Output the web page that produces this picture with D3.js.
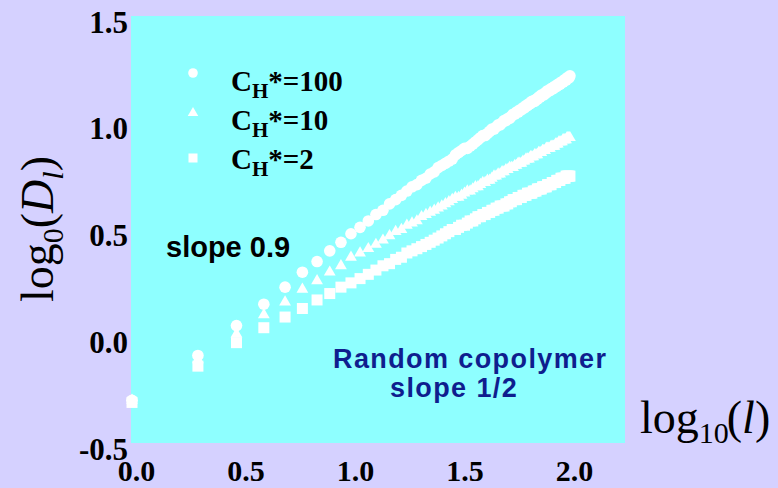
<!DOCTYPE html>
<html>
<head>
	<meta charset="utf-8">
	<title>log D vs log l</title>
	<script src="https://d3js.org/d3.v7.min.js"></script>
	<style>
	body {
		margin: 0;
		background: #d5d1ff;
	}
	.tick text {
		font-family: "Liberation Serif", "Times New Roman", serif;
		font-weight: bold;
		font-size: 31px;
		fill: #000000;
	}
	.x-axis .tick text {
		font-size: 30px;
	}
	.serif {
		font-family: "Liberation Serif", "Times New Roman", serif;
	}
	.sans {
		font-family: "Liberation Sans", Arial, sans-serif;
		font-weight: bold;
	}
	</style>
</head>
<body>
<div class="chartContainer"></div>
<script>
	// chain lengths l (x axis is log10 of these)
	var lengths = [1,2,3,4,5,6,7,8,9,10,11,12,13,14,15,16,17,18,19,20,
		21,22,23,24,25,26,27,28,29,30,31,32,33,34,35,36,37,38,39,40,
		41,42,43,44,45,46,47,48,49,50,51,52,53,54,55,56,57,58,59,60,
		61,62,63,64,65,66,67,68,69,70,71,72,73,74,75,76,77,78,79,80,
		81,82,83,84,85,86,87,88,89,90,91,92,93,94,95,96,97,98,99,100];

	// log10(D_l), one value per length
	var ch100 = [-0.30,-0.09,0.05,0.15,0.23,0.30,0.35,0.40,0.44,0.48,
		0.51,0.54,0.57,0.59,0.62,0.64,0.66,0.68,0.70,0.71,
		0.73,0.74,0.76,0.77,0.79,0.80,0.81,0.82,0.83,0.85,
		0.86,0.87,0.88,0.88,0.89,0.90,0.91,0.92,0.93,0.94,
		0.94,0.95,0.96,0.97,0.97,0.98,0.99,0.99,1.00,1.01,
		1.01,1.02,1.02,1.03,1.04,1.04,1.05,1.05,1.06,1.06,
		1.07,1.07,1.08,1.08,1.09,1.09,1.10,1.10,1.10,1.11,
		1.11,1.12,1.12,1.13,1.13,1.13,1.14,1.14,1.15,1.15,
		1.15,1.16,1.16,1.16,1.17,1.17,1.17,1.18,1.18,1.18,
		1.19,1.19,1.19,1.20,1.20,1.20,1.21,1.21,1.21,1.22];

	var ch10 = [-0.30,-0.11,0.01,0.10,0.16,0.22,0.26,0.30,0.33,0.37,
		0.39,0.41,0.43,0.45,0.47,0.49,0.50,0.52,0.53,0.54,
		0.56,0.57,0.58,0.59,0.60,0.61,0.62,0.63,0.64,0.65,
		0.65,0.66,0.67,0.68,0.68,0.69,0.70,0.70,0.71,0.72,
		0.72,0.73,0.73,0.74,0.75,0.75,0.76,0.76,0.77,0.77,
		0.78,0.78,0.79,0.79,0.79,0.80,0.80,0.81,0.81,0.81,
		0.82,0.82,0.83,0.83,0.83,0.84,0.84,0.84,0.85,0.85,
		0.85,0.86,0.86,0.86,0.87,0.87,0.87,0.88,0.88,0.88,
		0.88,0.89,0.89,0.89,0.89,0.90,0.90,0.90,0.91,0.91,
		0.91,0.91,0.92,0.92,0.92,0.92,0.93,0.93,0.93,0.93];

	var ch2 = [-0.31,-0.14,-0.03,0.04,0.09,0.13,0.17,0.20,0.23,0.25,
		0.27,0.29,0.31,0.33,0.34,0.36,0.37,0.39,0.40,0.41,
		0.42,0.43,0.44,0.45,0.46,0.47,0.48,0.49,0.50,0.50,
		0.51,0.52,0.52,0.53,0.54,0.54,0.55,0.56,0.56,0.57,
		0.57,0.58,0.58,0.59,0.59,0.60,0.60,0.61,0.61,0.61,
		0.62,0.62,0.63,0.63,0.64,0.64,0.64,0.65,0.65,0.65,
		0.66,0.66,0.66,0.67,0.67,0.67,0.67,0.68,0.68,0.68,
		0.69,0.69,0.69,0.69,0.70,0.70,0.70,0.70,0.71,0.71,
		0.71,0.71,0.72,0.72,0.72,0.72,0.73,0.73,0.73,0.73,
		0.74,0.74,0.74,0.74,0.74,0.75,0.75,0.75,0.75,0.75];

	var seriesNames = ["100", "10", "2"];
	var xTicks = [0, 0.5, 1.0, 1.5, 2.0];
	var xTickLabels = ["0.0", "0.5", "1.0", "1.5", "2.0"];
	var yTicks = [-0.5, 0.0, 0.5, 1.0, 1.5];
	var yTickLabels = ["-0.5", "0.0", "0.5", "1.0", "1.5"];

	var width = 778, height = 488;
	var plot = {left: 131, right: 625, top: 16, bottom: 443};

	var svg = d3.select(".chartContainer").append("svg")
		.attr("width", width)
		.attr("height", height);

	svg.append("rect")
		.attr("width", width).attr("height", height)
		.attr("fill", "#d5d1ff");

	svg.append("rect")
		.attr("x", plot.left).attr("y", plot.top)
		.attr("width", plot.right - plot.left)
		.attr("height", plot.bottom - plot.top)
		.attr("fill", "#8effff");

	var x = d3.scaleLinear().domain([0, 2.256]).range([132, 626]);
	var y = d3.scaleLinear().domain([-0.5, 1.5]).range([plot.bottom, plot.top]);

	// axes: labels only, no lines
	var xAxis = d3.axisBottom(x).tickValues(xTicks).tickSize(0)
		.tickFormat(function(d, i) { return xTickLabels[i]; });
	var yAxis = d3.axisLeft(y).tickValues(yTicks).tickSize(0)
		.tickFormat(function(d, i) { return yTickLabels[i]; });

	var gx = svg.append("g")
		.attr("class", "x-axis")
		.attr("transform", "translate(0," + plot.bottom + ")")
		.call(xAxis);
	gx.select(".domain").remove();
	gx.selectAll("text").attr("y", 38).attr("dy", 0).attr("dx", 4);

	var gy = svg.append("g")
		.attr("transform", "translate(128,0)")
		.call(yAxis);
	gy.select(".domain").remove();
	gy.selectAll("text").attr("x", 0).attr("dy", 16);

	// markers
	var pts = function(vals) {
		return lengths.map(function(l, i) { return {lx: Math.log10(l), v: vals[i]}; });
	};

	svg.append("g").selectAll("rect")
		.data(pts(ch2)).enter().append("rect")
		.attr("x", function(d) { return x(d.lx) - 5.5; })
		.attr("y", function(d) { return y(d.v) - 5.5; })
		.attr("width", 11).attr("height", 11)
		.attr("fill", "#ffffff");

	var tri = d3.symbol().type(d3.symbolTriangle).size(60);
	svg.append("g").selectAll("path")
		.data(pts(ch10)).enter().append("path")
		.attr("d", tri)
		.attr("transform", function(d) { return "translate(" + x(d.lx) + "," + y(d.v) + ")"; })
		.attr("fill", "#ffffff");

	svg.append("g").selectAll("circle")
		.data(pts(ch100)).enter().append("circle")
		.attr("cx", function(d) { return x(d.lx); })
		.attr("cy", function(d) { return y(d.v); })
		.attr("r", 5.8)
		.attr("fill", "#ffffff");

	// legend
	var legendY = [73, 113, 158];
	var textY = [91, 130, 169];
	var lg = svg.append("g");
	lg.append("circle").attr("cx", 193).attr("cy", legendY[0]).attr("r", 4.8).attr("fill", "#fff");
	lg.append("path").attr("d", d3.symbol().type(d3.symbolTriangle).size(48))
		.attr("transform", "translate(193," + legendY[1] + ")").attr("fill", "#fff");
	lg.append("rect").attr("x", 188.5).attr("y", legendY[2] - 4.5)
		.attr("width", 9).attr("height", 9).attr("fill", "#fff");

	seriesNames.forEach(function(n, i) {
		var t = lg.append("text")
			.attr("class", "serif")
			.attr("x", 231).attr("y", textY[i])
			.attr("font-weight", "bold")
			.attr("font-size", 29);
		t.append("tspan").text("C");
		t.append("tspan").attr("font-size", 21).attr("dy", 7).text("H");
		t.append("tspan").attr("dy", -7).text("*=" + n);
	});

	// annotations
	svg.append("text").attr("class", "sans")
		.attr("x", 166).attr("y", 257)
		.attr("font-size", 29).attr("fill", "#000")
		.text("slope 0.9");

	svg.append("text").attr("class", "sans")
		.attr("x", 333).attr("y", 368)
		.attr("font-size", 27).attr("letter-spacing", 1.4)
		.attr("fill", "#0f1e8e")
		.text("Random copolymer");
	svg.append("text").attr("class", "sans")
		.attr("x", 390).attr("y", 397)
		.attr("font-size", 27).attr("letter-spacing", 1.4)
		.attr("fill", "#0f1e8e")
		.text("slope 1/2");

	// axis titles
	var xt = svg.append("text").attr("class", "serif")
		.attr("x", 640).attr("y", 433)
		.attr("font-size", 46).attr("fill", "#000");
	xt.append("tspan").text("log");
	xt.append("tspan").attr("font-size", 30).attr("dy", 10).text("10");
	xt.append("tspan").attr("dy", -10).attr("dx", -2).text("(");
	xt.append("tspan").attr("font-style", "italic").text("l");
	xt.append("tspan").text(")");

	var yt = svg.append("text").attr("class", "serif")
		.attr("transform", "translate(53,302) rotate(-90)")
		.attr("font-size", 46).attr("fill", "#000");
	yt.append("tspan").text("log");
	yt.append("tspan").attr("font-size", 30).attr("dy", 10).text("0");
	yt.append("tspan").attr("dy", -10).text("(");
	yt.append("tspan").attr("font-style", "italic").text("D");
	yt.append("tspan").attr("font-style", "italic").attr("font-size", 30).attr("dy", 10).text("l");
	yt.append("tspan").attr("dy", -10).text(")");
</script>
</body>
</html>
